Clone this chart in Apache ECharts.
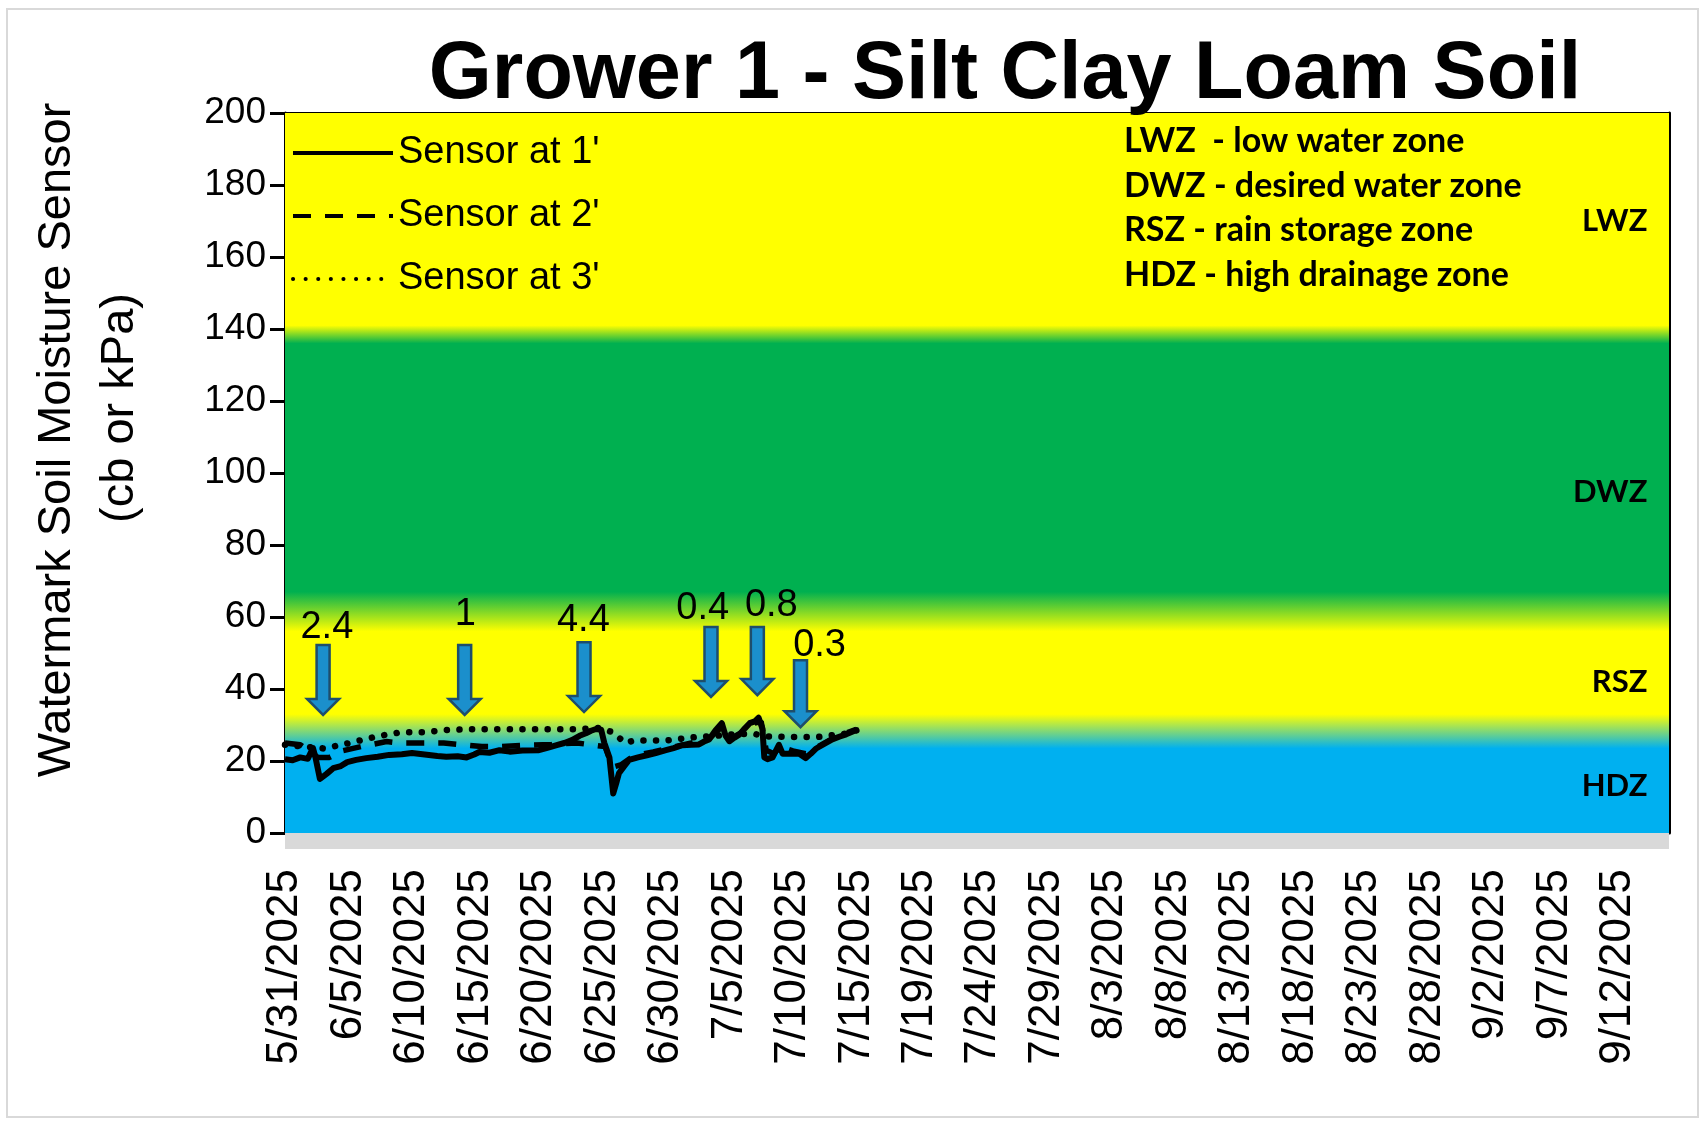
<!DOCTYPE html>
<html>
<head>
<meta charset="utf-8">
<script src="https://cdn.jsdelivr.net/npm/echarts@6/dist/echarts.min.js"></script>
<style>
html, body { margin: 0; padding: 0; background: #fff; }
#chart { width: 1704px; height: 1124px; }
</style>
</head>
<body>
<div id="chart"></div>
<script>
// tick labels on the date axis (one every 5 points)
var dateLabels = ['5/31/2025', '6/5/2025', '6/10/2025', '6/15/2025', '6/20/2025', '6/25/2025',
  '6/30/2025', '7/5/2025', '7/10/2025', '7/15/2025', '7/19/2025', '7/24/2025', '7/29/2025',
  '8/3/2025', '8/8/2025', '8/13/2025', '8/18/2025', '8/23/2025', '8/28/2025', '9/2/2025',
  '9/7/2025', '9/12/2025'];
var pointCount = 110;

// sensor readings, [day offset from 5/31, cb]
var sensor1 = [[0,20.5],[0.6,20.2],[1.2,21],[1.8,20.6],[2.2,23.6],[2.4,21],[2.75,15],[3.3,16.5],[3.8,18],
  [4.4,18.6],[4.9,19.7],[5.6,20.3],[6.4,20.8],[7.3,21.2],[8.2,21.7],[9.2,21.9],[10,22.2],[11,21.8],
  [12,21.4],[12.7,21.2],[13.6,21.3],[14.3,21],[14.9,21.8],[15.3,22.5],[16.1,22.3],[16.9,23],[17.7,22.6],
  [18.7,22.9],[20,23],[20.8,23.8],[21.4,24.4],[22,25],[22.6,25.8],[23.2,27],[23.7,27.7],[24.1,28.4],
  [24.5,28.9],[24.9,28.7],[25.15,25],[25.55,21],[25.85,11],[26.1,14],[26.3,16.6],[26.7,18.5],[27.1,20.3],
  [27.8,21],[28.5,21.6],[29.2,22.2],[30,23],[30.6,23.6],[31.3,24.4],[32,24.5],[32.6,24.6],[33,25.4],
  [33.4,26],[33.9,28.5],[34.4,30.5],[34.7,27],[35,25.5],[35.4,26.5],[35.8,27.4],[36.2,29],[36.6,30.5],
  [37,31],[37.3,32],[37.6,29],[37.75,21],[38,20.5],[38.4,21],[38.9,24.5],[39.2,22],[39.8,22],[40.5,22],
  [41,20.8],[41.4,22],[41.8,23.4],[42.5,24.8],[43.1,26],[43.7,26.8],[44.2,27.4],[45,28.6]];
var sensor2 = [[0,25],[1.2,24.5],[2,22.5],[2.6,21],[3.5,21],[4.5,22.8],[6,24],[8,25.4],[9,25],[11,25],
  [12.5,25],[14,24.5],[15.5,24],[17,24],[19,24.4],[21,24.6],[23,25],[25.2,24],[25.8,18.3],[26.5,19],
  [27.5,21.5],[29,22.5],[30.5,23.8],[32,25],[33.5,26.5],[34.4,29.5],[35,26],[36,28],[37,30.5],[37.5,31],
  [37.9,23],[38.5,22],[39,24],[40,22.8],[41,22],[42,24],[43,26],[44,27.5],[45,28.8]];
var sensor3 = [[0,24.5],[1.5,24],[3,23.5],[4.5,24.5],[6,25.8],[7.5,27],[9.2,28],[11,28],[12.6,28.6],
  [14.5,28.8],[17,28.8],[20,28.8],[23,28.8],[24.7,29.2],[25.8,28],[26.8,25],[27.5,25.7],[30,25.7],
  [32.2,26.6],[34,27],[35.5,27.5],[37,27.5],[38,26.8],[40,26.7],[42,26.7],[44,27.5],[45,28.5]];

// rain / irrigation arrows
var rainAmount = ['2.4', '1', '4.4', '0.4', '0.8', '0.3'];
var arrowX = [3.0, 14.15, 23.55, 33.55, 37.2, 40.6];
var arrowTop = [52.2, 52.2, 53, 57.2, 57.2, 48];
var arrowTip = [32.8, 32.8, 33.6, 37.8, 38.3, 29.4];
var rainLabelX = [3.3, 14.2, 23.5, 32.9, 38.3, 42.1];
var rainLabelY = [57.2, 60.8, 58.9, 62.3, 63.2, 52.2];

// zone labels on the right and the band colour stops (value, colour)
var zoneNames = ['LWZ', 'DWZ', 'RSZ', 'HDZ'];
var zoneLabelY = [170, 94.7, 42, 13];
var zoneStops = [[200,'#FFFF00'],[141,'#FFFF00'],[136,'#00B050'],[67,'#00B050'],[56,'#FFFF00'],
  [33,'#FFFF00'],[23.5,'#00B0F0'],[0,'#00B0F0']];
var zoneNotes = ['LWZ  - low water zone', 'DWZ - desired water zone', 'RSZ - rain storage zone', 'HDZ - high drainage zone'];

var categories = [];
for (var i = 0; i < pointCount; i++) {
  categories.push(i % 5 === 0 ? dateLabels[i / 5] : '');
}

var font = '"Liberation Sans", Arial, sans-serif';

var chart = echarts.init(document.getElementById('chart'));

var option = {
  animation: false,
  backgroundColor: '#fff',
  title: {
    text: 'Grower 1 - Silt Clay Loam Soil',
    left: 1000,
    top: 30,
    textAlign: 'center',
    textStyle: { fontSize: 81, fontWeight: 'bold', fontFamily: font, color: '#000' }
  },
  legend: {
    orient: 'vertical',
    left: 291,
    top: 134,
    padding: 0,
    itemWidth: 100,
    itemHeight: 4,
    itemGap: 25,
    itemStyle: { color: 'rgba(0,0,0,0)', borderWidth: 0 },
    lineStyle: { width: 4 },
    data: ["Sensor at 1'", "Sensor at 2'", "Sensor at 3'"],
    textStyle: { fontSize: 38, fontFamily: font, color: '#000' }
  },
  grid: { left: 285, right: 35, top: 113, bottom: 291, containLabel: false },
  xAxis: [{
    type: 'category',
    data: categories,
    boundaryGap: false,
    offset: 8,
    axisLine: { onZero: false, lineStyle: { color: '#d9d9d9', width: 16, cap: 'butt' } },
    axisTick: { show: false },
    axisLabel: { interval: 4, rotate: 90, margin: 28, fontSize: 44, fontFamily: font, color: '#000' },
    splitLine: { show: false }
  }, {
    type: 'value',
    min: 0,
    max: pointCount - 1,
    position: 'top',
    axisLine: { show: true, onZero: false, lineStyle: { color: '#000', width: 3 } },
    axisTick: { show: false },
    axisLabel: { show: false },
    splitLine: { show: false }
  }],
  yAxis: [{
    type: 'value',
    min: 0,
    max: 200,
    interval: 20,
    axisLine: { show: true, onZero: false, lineStyle: { color: '#000', width: 3 } },
    axisTick: { show: true, length: 15, lineStyle: { color: '#000', width: 3 } },
    axisLabel: { margin: 19, fontSize: 37, fontFamily: font, color: '#000' },
    splitLine: { show: false }
  }, {
    type: 'value',
    min: 0,
    max: 200,
    position: 'right',
    axisLine: { show: true, onZero: false, lineStyle: { color: '#000', width: 3 } },
    axisTick: { show: false },
    axisLabel: { show: false },
    splitLine: { show: false }
  }],
  graphic: [{
    type: 'rect',
    shape: { x: 7, y: 9, width: 1691, height: 1108 },
    style: { fill: 'none', stroke: '#d9d9d9', lineWidth: 2 },
    z: -1
  }, {
    type: 'text',
    x: 57, y: 440,
    rotation: Math.PI / 2,
    style: { text: 'Watermark Soil Moisture Sensor', fontSize: 47, fontFamily: font, fill: '#000', align: 'center', verticalAlign: 'middle' }
  }, {
    type: 'text',
    x: 120, y: 408,
    rotation: Math.PI / 2,
    style: { text: '(cb or kPa)', fontSize: 47, fontFamily: font, fill: '#000', align: 'center', verticalAlign: 'middle' }
  }, {
    type: 'text',
    x: 1124, y: 119,
    style: { text: zoneNotes.join('\n'), fontSize: 34, lineHeight: 44.5, fontWeight: 'bold', fontFamily: 'Lato, sans-serif', fill: '#000' },
    z: 10
  }],
  series: [{
    // colour bands
    type: 'line',
    xAxisIndex: 1,
    data: [],
    z: 0,
    silent: true,
    markArea: {
      silent: true,
      itemStyle: {
        color: new echarts.graphic.LinearGradient(0, 0, 0, 1, zoneStops.map(function (s) {
          return { offset: (200 - s[0]) / 200, color: s[1] };
        }))
      },
      data: [[{ xAxis: 0, yAxis: 200 }, { xAxis: pointCount - 1, yAxis: 0 }]]
    }
  }, {
    name: "Sensor at 3'",
    type: 'line',
    xAxisIndex: 1,
    data: sensor3,
    symbol: 'none',
    z: 3,
    lineStyle: { color: '#000', width: 6.5, type: [0.1, 12.5], cap: 'round' },
    itemStyle: { color: '#000' }
  }, {
    name: "Sensor at 2'",
    type: 'line',
    xAxisIndex: 1,
    data: sensor2,
    symbol: 'none',
    z: 3,
    lineStyle: { color: '#000', width: 5.5, type: [18, 14] },
    itemStyle: { color: '#000' }
  }, {
    name: "Sensor at 1'",
    type: 'line',
    xAxisIndex: 1,
    data: sensor1,
    symbol: 'none',
    z: 4,
    lineStyle: { color: '#000', width: 6, join: 'round' },
    itemStyle: { color: '#000' }
  }, {
    // rain arrows with amounts
    type: 'custom',
    xAxisIndex: 1,
    z: 5,
    silent: true,
    data: arrowX.map(function (x, i) { return [x, arrowTop[i], arrowTip[i], rainLabelX[i], rainLabelY[i]]; }),
    renderItem: function (params, api) {
      var top = api.coord([api.value(0), api.value(1)]);
      var tip = api.coord([api.value(0), api.value(2)]);
      var txt = api.coord([api.value(3), api.value(4)]);
      var cx = top[0], hw = 6.5, headW = 16, neck = tip[1] - 16;
      return {
        type: 'group',
        children: [{
          type: 'polygon',
          shape: { points: [[cx - hw, top[1]], [cx + hw, top[1]], [cx + hw, neck], [cx + headW, neck],
            [cx, tip[1]], [cx - headW, neck], [cx - hw, neck]] },
          style: { fill: '#1b8fcc', stroke: '#1e4e6c', lineWidth: 2.5 }
        }, {
          type: 'text',
          x: txt[0], y: txt[1],
          style: { text: rainAmount[params.dataIndex], fontSize: 38, fontFamily: font, fill: '#000', align: 'center', verticalAlign: 'middle' }
        }]
      };
    }
  }, {
    // zone names at the right edge
    type: 'custom',
    xAxisIndex: 1,
    z: 5,
    silent: true,
    data: zoneLabelY.map(function (y, i) { return [107.3, y]; }),
    renderItem: function (params, api) {
      var p = api.coord([api.value(0), api.value(1)]);
      return {
        type: 'text',
        x: p[0], y: p[1],
        style: { text: zoneNames[params.dataIndex], fontSize: 31, fontWeight: 'bold', fontFamily: 'Lato, sans-serif', fill: '#000', align: 'right', verticalAlign: 'middle' }
      };
    }
  }]
};

chart.setOption(option);
</script>
</body>
</html>
